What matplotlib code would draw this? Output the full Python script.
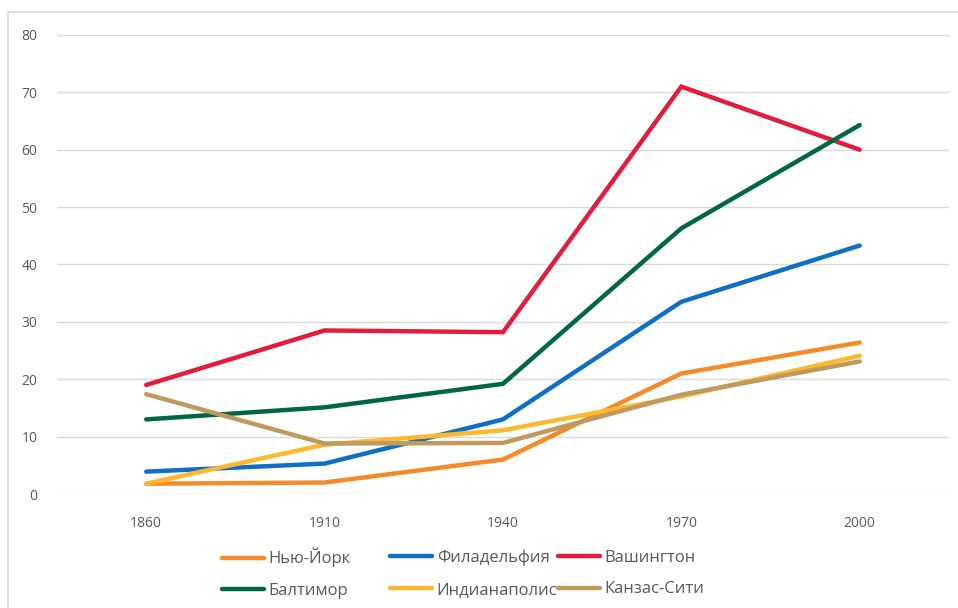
import matplotlib
matplotlib.use('Agg')
import matplotlib.pyplot as plt
from matplotlib.patches import Rectangle

plt.rcParams['font.family'] = ['Open Sans', 'DejaVu Sans']

years = ['1860', '1910', '1940', '1970', '2000']
names = ['Нью-Йорк', 'Филадельфия', 'Вашингтон', 'Балтимор', 'Индианаполис', 'Канзас-Сити']
new_york = [1.8, 2.0, 6.0, 21.0, 26.4]
philadelphia = [3.9, 5.3, 13.0, 33.5, 43.3]
washington = [19.0, 28.5, 28.2, 71.0, 60.0]
baltimore = [13.0, 15.1, 19.2, 46.3, 64.3]
indianapolis = [1.8, 8.6, 11.1, 17.0, 24.1]
kansas_city = [17.4, 8.8, 8.9, 17.3, 23.1]
colors = ['#F58A2B', '#0F6FC6', '#E31B3D', '#00683F', '#FDB92D', '#BE9A5E']

series = [new_york, philadelphia, washington, baltimore, indianapolis, kansas_city]

fig = plt.figure(figsize=(9.58, 6.08), dpi=100)
ax = fig.add_axes([0.0595, 0.1875, 0.931, 0.755])

x = range(len(years))
lines = []
for vals, name, c in zip(series, names, colors):
    ln, = ax.plot(x, vals, color=c, lw=3.2, solid_capstyle='round',
                  solid_joinstyle='miter', label=name)
    lines.append(ln)

ax.set_xlim(-0.5, len(years) - 0.5)
ax.set_ylim(0, 80)
ax.set_yticks(range(0, 81, 10))
ax.set_xticks(list(x))
ax.set_xticklabels(years)
ax.grid(axis='y', color='#D9D9D9', lw=1)
ax.set_axisbelow(True)
for s in ax.spines.values():
    s.set_visible(False)
ax.tick_params(length=0, labelsize=10, colors='#595959')
ax.tick_params(axis='y', pad=14)
ax.tick_params(axis='x', pad=16)

# legend: three columns placed like the original
col_x = [222, 390, 558]
for i, cx in enumerate(col_x):
    hs = [lines[i], lines[i + 3]]
    leg = fig.legend(handles=hs, loc='center left',
                     bbox_to_anchor=(cx / 958, 1 - 573.5 / 608),
                     frameon=False, fontsize=12, borderpad=0, borderaxespad=0,
                     handlelength=2.5, handletextpad=0.3, labelspacing=0.95)
    for t in leg.get_texts():
        t.set_color('#595959')

# outer chart border
fig.patches.append(Rectangle((8 / 958, -0.1), 1.2, 1 - 12 / 608 + 0.1,
                             transform=fig.transFigure, fill=False,
                             edgecolor='#D9D9D9', lw=1.2))

fig.savefig('out.png', dpi=100)
